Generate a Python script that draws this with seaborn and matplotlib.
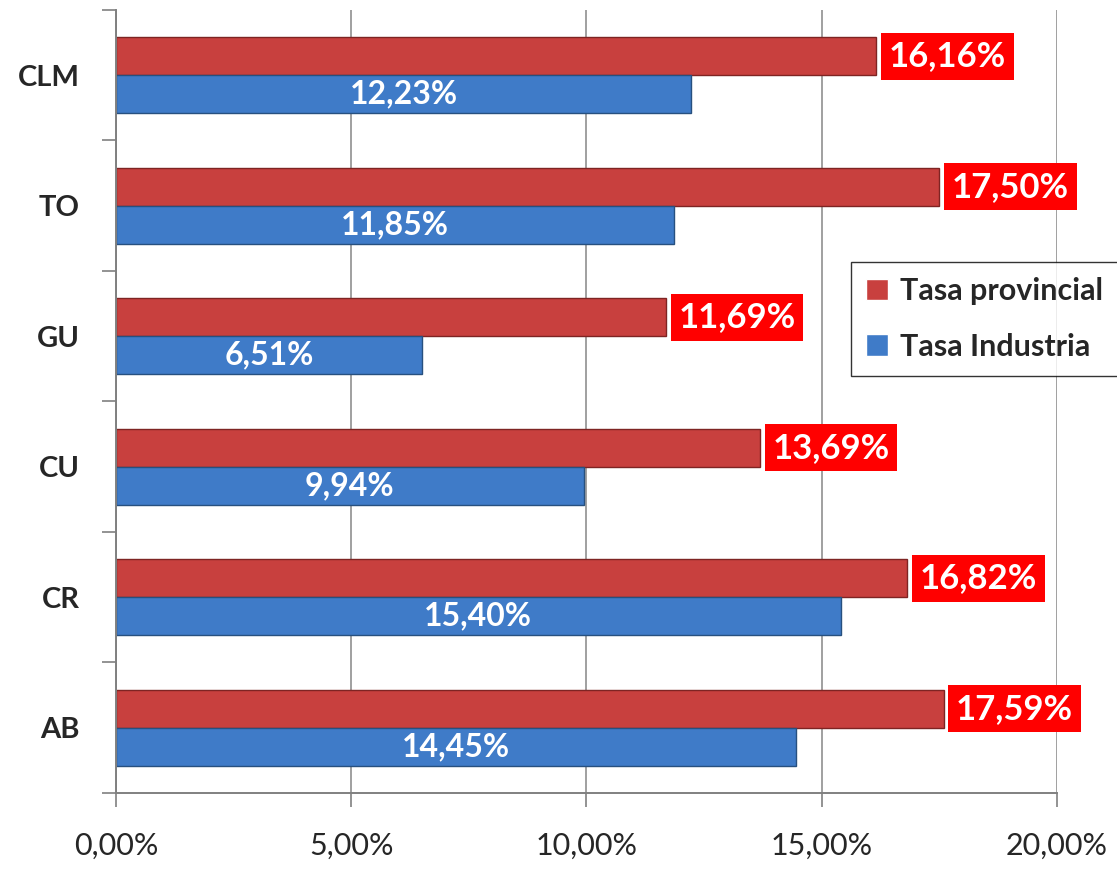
import numpy as np
import pandas as pd
import matplotlib
matplotlib.use('Agg')
import matplotlib.pyplot as plt
import seaborn as sns

# data
regions = ['CLM', 'TO', 'GU', 'CU', 'CR', 'AB']
tasa_provincial = [16.16, 17.50, 11.69, 13.69, 16.82, 17.59]
tasa_industria = [12.23, 11.85, 6.51, 9.94, 15.40, 14.45]
series = ['Tasa provincial', 'Tasa Industria']
x_ticks = [0, 5, 10, 15, 20]

df = pd.DataFrame({
    'region': regions * 2,
    'serie': [series[0]] * len(regions) + [series[1]] * len(regions),
    'valor': tasa_provincial + tasa_industria,
})

sns.set_style('white')
plt.rcParams['font.family'] = ['Lato', 'DejaVu Sans']

fig = plt.figure(figsize=(11.17, 8.69), dpi=100)
ax = fig.add_axes([0.1038, 0.0875, 0.8425, 0.901])

palette = {series[0]: '#C8403E', series[1]: '#3F7BC8'}
edges = {series[0]: '#7E2423', series[1]: '#27507F'}

sns.barplot(data=df, y='region', x='valor', hue='serie', order=regions,
            hue_order=series, palette=palette, orient='h', width=0.58,
            saturation=1, dodge=True, legend=True, ax=ax)

for cont, s in zip(ax.containers, series):
    for bar in cont:
        bar.set_edgecolor(edges[s])
        bar.set_linewidth(1.0)

# value labels
for bar, v in zip(ax.containers[0], tasa_provincial):
    y = bar.get_y() + bar.get_height() / 2
    ax.annotate(f'{v:.2f}'.replace('.', ',') + '%', xy=(bar.get_width(), y),
                xytext=(9, 0), textcoords='offset points', ha='left', va='center',
                color='white', fontsize=25, fontweight='bold',
                bbox=dict(boxstyle='square,pad=0.22', facecolor='#FF0000', edgecolor='none'))
for bar, v in zip(ax.containers[1], tasa_industria):
    y = bar.get_y() + bar.get_height() / 2
    ax.text(bar.get_width() / 2, y, f'{v:.2f}'.replace('.', ',') + '%',
            ha='center', va='center', color='white', fontsize=23, fontweight='bold')

ax.set_xlim(0, 20)
ax.set_ylim(len(regions) - 0.5, -0.5)
ax.set_xticks(x_ticks)
ax.set_xticklabels([f'{t:.2f}'.replace('.', ',') + '%' for t in x_ticks], fontsize=22)
ax.set_yticks(range(len(regions)))
ax.set_yticklabels(regions, fontsize=21, fontweight='bold')
ax.set_yticks(np.arange(-0.5, len(regions), 1), minor=True)
ax.tick_params(axis='y', which='major', left=True, length=0, pad=26)
ax.tick_params(axis='y', which='minor', left=True, length=10, color='#808080', width=1.2)
ax.tick_params(axis='x', which='major', bottom=True, length=10, color='#808080', width=1.2, pad=18)
ax.set_xlabel('')
ax.set_ylabel('')

ax.grid(axis='x', color='#909090', linewidth=1.2)
ax.set_axisbelow(True)
for side in ['top', 'right']:
    ax.spines[side].set_visible(False)
for side in ['left', 'bottom']:
    ax.spines[side].set_color('#808080')
    ax.spines[side].set_linewidth(1.4)

handles, labels = ax.get_legend_handles_labels()
leg = ax.legend(handles, labels, loc='upper left', bbox_to_anchor=(0.781, 0.678),
                borderaxespad=0, frameon=True, fancybox=False, edgecolor='black',
                prop={'weight': 'bold', 'size': 22}, handlelength=0.7, handleheight=0.7,
                handletextpad=0.4, borderpad=0.5, labelspacing=0.9)
leg.get_frame().set_linewidth(1.0)

fig.savefig('out.png', dpi=100)
